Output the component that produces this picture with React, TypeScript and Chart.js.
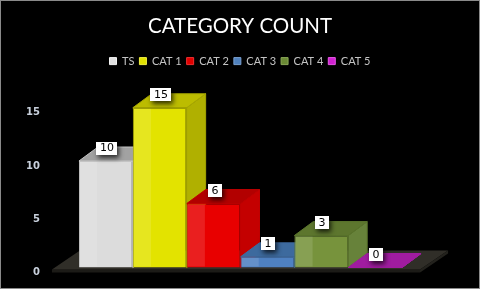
import React, { useEffect, useRef } from 'react';
import { Chart, registerables } from 'chart.js';

Chart.register(...registerables);

// ---- data ----
const categories = ['TS', 'CAT 1', 'CAT 2', 'CAT 3', 'CAT 4', 'CAT 5'];
const counts = [10, 15, 6, 1, 3, 0];
const yTickValues = [0, 5, 10, 15];

// ---- styles ----
const frontColors = ['#dcdcdc', '#e3e300', '#e80000', '#4f81c2', '#77933c', '#b020b0'];
const topColors = ['#a2a2a2', '#bcbc00', '#b20000', '#3d6a9e', '#5d762e', '#a01ca0'];
const sideColors = ['#b8b8b8', '#b0b000', '#c40000', '#416fa3', '#67823a', '#8a168a'];
const edgeColors = ['#c4c4c4', '#a6a600', '#c00000', '#3d6aa0', '#5a742c', '#a01ca0'];
const legendColors = ['#e0e0e0', '#e0e000', '#e00000', '#4f81bd', '#6b8a35', '#d020d0'];
const legendBorders = ['#f4f4f4', '#f0f040', '#f03030', '#7aa0d0', '#8aa858', '#e858e8'];

// 3D projection offsets
const DX = 19;
const DY = -14;
// axis calibration (canvas px)
const BAR_BASE_PX = 266.5;
const BAR_UNIT_PX = 10.65;
const TICK_ZERO_PX = 271.7;
const TICK_UNIT_PX = 160 / 15;

function poly(ctx: CanvasRenderingContext2D, pts: number[][]) {
  ctx.beginPath();
  ctx.moveTo(pts[0][0], pts[0][1]);
  for (let i = 1; i < pts.length; i++) ctx.lineTo(pts[i][0], pts[i][1]);
  ctx.closePath();
  ctx.fill();
}

const threeD = {
  id: 'threeD',
  beforeDatasetsDraw(chart: any) {
    const ctx: CanvasRenderingContext2D = chart.ctx;
    const bars = chart.data.datasets.map((_: any, i: number) => chart.getDatasetMeta(i).data[0]);
    const first = bars[0];
    const last = bars[bars.length - 1];
    const l = first.x - first.width / 2;
    const r = last.x + last.width / 2;
    const base = first.base;
    ctx.save();
    // floor
    const fl = l - 27;
    const fr = r + 18;
    ctx.fillStyle = '#1c1b17';
    poly(ctx, [[fl, base + 2], [fr, base + 2], [fr, base + 5], [fl, base + 5]]);
    ctx.fillStyle = '#302e28';
    poly(ctx, [[fl, base + 2], [fr, base + 2], [fr + 28, base - 17], [fl + 28, base - 17]]);
    ctx.fillStyle = '#23221d';
    poly(ctx, [[fr, base + 2], [fr + 28, base - 17], [fr + 28, base - 14], [fr, base + 5]]);
    // sides and tops
    bars.forEach((b: any, i: number) => {
      const left = b.x - b.width / 2;
      const right = b.x + b.width / 2;
      const top = b.y;
      const bottom = b.base;
      ctx.fillStyle = sideColors[i];
      poly(ctx, [[right, top], [right + DX, top + DY], [right + DX, bottom + DY], [right, bottom]]);
      ctx.strokeStyle = edgeColors[i];
      ctx.lineWidth = 1;
      ctx.stroke();
      ctx.fillStyle = topColors[i];
      poly(ctx, [[left, top], [left + DX, top + DY], [right + DX, top + DY], [right, top]]);
      ctx.stroke();
    });
    ctx.restore();
  },
  afterDatasetsDraw(chart: any) {
    const ctx: CanvasRenderingContext2D = chart.ctx;
    const bars = chart.data.datasets.map((_: any, i: number) => chart.getDatasetMeta(i).data[0]);
    ctx.save();
    // glass highlight on front faces
    bars.forEach((b: any) => {
      const h = b.base - b.y;
      if (h <= 1) return;
      const left = b.x - b.width / 2;
      ctx.fillStyle = 'rgba(255,255,255,0.12)';
      ctx.fillRect(left + 1, b.y + 1, b.width * 0.32, h - 2);
    });
    // value labels
    ctx.font = '11px "DejaVu Sans"';
    ctx.textAlign = 'center';
    ctx.textBaseline = 'middle';
    bars.forEach((b: any, i: number) => {
      const text = String(chart.data.datasets[i].data[0]);
      const w = ctx.measureText(text).width + 7;
      const h = 13;
      const cx = b.x + 1;
      const cy = b.y + DY + 1;
      ctx.shadowColor = 'rgba(0,0,0,0.75)';
      ctx.shadowBlur = 5;
      ctx.shadowOffsetX = 2;
      ctx.shadowOffsetY = 3;
      ctx.fillStyle = '#ffffff';
      ctx.fillRect(Math.round(cx - w / 2), Math.round(cy - h / 2), Math.round(w), h);
      ctx.shadowColor = 'transparent';
      ctx.shadowBlur = 0;
      ctx.shadowOffsetX = 0;
      ctx.shadowOffsetY = 0;
      ctx.fillStyle = '#000000';
      ctx.fillText(text, Math.round(cx), Math.round(cy) + 0.5);
    });
    ctx.restore();
  },
};

export default function App() {
  const ref = useRef<HTMLCanvasElement>(null);

  useEffect(() => {
    const canvas = ref.current;
    if (!canvas) return;
    const chart = new Chart(canvas, {
      type: 'bar',
      data: {
        labels: [''],
        datasets: categories.map((c, i) => ({
          label: c,
          data: [counts[i]],
          backgroundColor: frontColors[i],
          borderColor: edgeColors[i],
          borderWidth: 1,
          yAxisID: 'y',
          barPercentage: 1,
          categoryPercentage: 0.9,
        })),
      },
      options: {
        animation: false,
        responsive: false,
        maintainAspectRatio: false,
        layout: { padding: { left: 0, right: 0, top: 0, bottom: 6 } },
        plugins: {
          title: {
            display: true,
            text: 'CATEGORY COUNT',
            color: '#ffffff',
            font: { family: 'Lato', size: 20.5, weight: 'normal' },
            padding: { top: 13, bottom: 12 },
          },
          legend: {
            display: true,
            position: 'top',
            labels: {
              color: '#c4c4c4',
              font: { family: 'Lato', size: 11 },
              boxWidth: 7,
              boxHeight: 7,
              padding: 5,
              generateLabels: () =>
                categories.map((c, i) => ({
                  text: c,
                  fillStyle: legendColors[i],
                  strokeStyle: legendBorders[i],
                  lineWidth: 1,
                  fontColor: '#c4c4c4',
                  hidden: false,
                  datasetIndex: i,
                })),
            },
          },
          tooltip: { enabled: false },
        },
        scales: {
          x: { display: false },
          y: {
            type: 'linear',
            position: 'right',
            min: 0,
            max: 17,
            grid: { display: false, drawTicks: false },
            border: { display: false },
            ticks: { display: false },
            afterFit: (s: any) => {
              s.width = 59;
              s.paddingTop = 0;
              s.paddingBottom = 0;
            },
          },
          yt: {
            type: 'linear',
            axis: 'y',
            position: 'left',
            min: 0,
            max: 17,
            grid: { display: false, drawTicks: false },
            border: { display: false },
            ticks: {
              color: '#c8d0dc',
              font: { family: 'DejaVu Sans', size: 10, weight: 'bold' },
              padding: 21,
            },
            afterBuildTicks: (s: any) => {
              s.ticks = yTickValues.map((v) => ({ value: v }));
            },
            afterFit: (s: any) => {
              s.width = 60;
              s.paddingTop = 0;
              s.paddingBottom = 0;
            },
          },
        },
      } as any,
      plugins: [threeD],
    });

    // calibrate both value axes to the chart area
    const { top, bottom } = chart.chartArea;
    const yMin = -(bottom - BAR_BASE_PX) / BAR_UNIT_PX;
    const tMin = -(bottom - TICK_ZERO_PX) / TICK_UNIT_PX;
    const sc: any = chart.options.scales;
    sc.y.min = yMin;
    sc.y.max = yMin + (bottom - top) / BAR_UNIT_PX;
    sc.yt.min = tMin;
    sc.yt.max = tMin + (bottom - top) / TICK_UNIT_PX;
    chart.update();

    return () => chart.destroy();
  }, []);

  return (
    <div
      style={{
        position: 'fixed',
        left: 0,
        top: 0,
        width: 480,
        height: 289,
        boxSizing: 'border-box',
        border: '1px solid #8a8a8a',
        background: '#000000',
      }}
    >
      <canvas ref={ref} width={478} height={287} style={{ display: 'block' }} />
    </div>
  );
}
